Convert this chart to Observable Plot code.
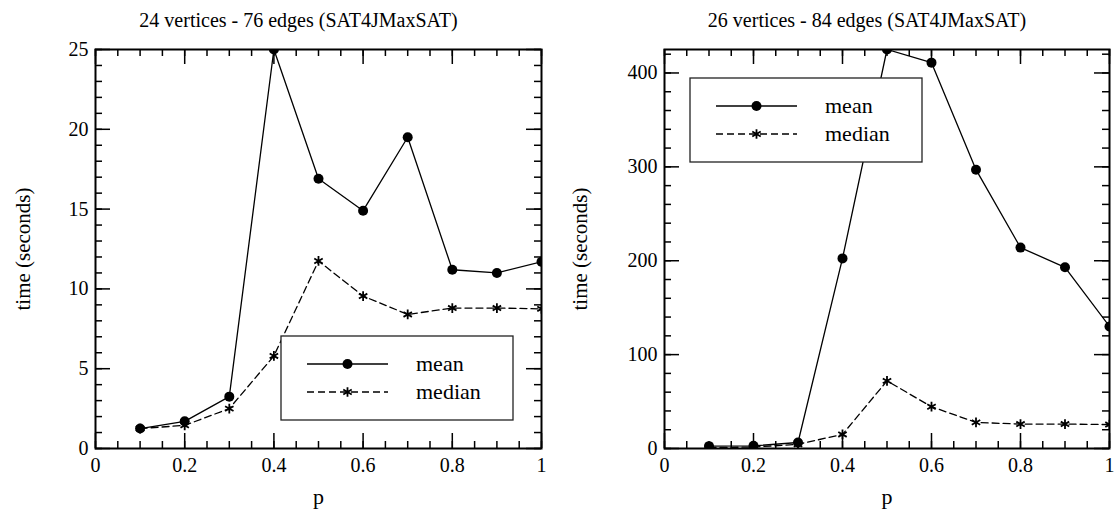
<!DOCTYPE html>
<html>
<head>
<meta charset="utf-8">
<script src="https://cdn.jsdelivr.net/npm/d3@7"></script>
<script src="https://cdn.jsdelivr.net/npm/@observablehq/plot@0.6"></script>
<style>
  html, body { margin: 0; padding: 0; background: #fff; }
  #wrap { position: relative; width: 1117px; height: 517px; overflow: hidden; }
  #wrap > svg { position: absolute; top: 0; }
  #wrap svg, #wrap svg text { font-family: "Liberation Serif", "DejaVu Serif", serif !important; }
</style>
</head>
<body>
<div id="wrap"></div>
<script>
// ---- data ----
const p = [0.1, 0.2, 0.3, 0.4, 0.5, 0.6, 0.7, 0.8, 0.9, 1.0];
const mean24 = [1.25, 1.7, 3.25, 25, 16.9, 14.9, 19.5, 11.2, 11.0, 11.7];
const median24 = [1.25, 1.45, 2.5, 5.8, 11.75, 9.55, 8.4, 8.8, 8.8, 8.75];
const mean26 = [2.5, 2.8, 6.4, 202.5, 425, 411, 297, 214, 193, 130];
const median26 = [1, 1.5, 4.5, 15, 72, 44.5, 27.8, 26, 26, 25.5];

const title24 = "24 vertices - 76 edges (SAT4JMaxSAT)";
const title26 = "26 vertices - 84 edges (SAT4JMaxSAT)";
const xLabel = "p";
const yLabel = "time (seconds)";
const seriesNames = ["mean", "median"];

const xTicks = [0, 0.2, 0.4, 0.6, 0.8, 1];
const yTicks24 = [0, 5, 10, 15, 20, 25];
const yTicks26 = [0, 100, 200, 300, 400];

const FONT = "Liberation Serif, DejaVu Serif, serif";

function panel({title, mean, median, yMax, yTicks, yMinorStep, left, width, marginLeft, marginRight, legend, yLabelDx, titleDx}) {
  const height = 517, marginTop = 49, marginBottom = 69;
  const fh = height - marginTop - marginBottom;
  const fw = width - marginLeft - marginRight;
  const rows = p.map((v, i) => ({p: v, mean: mean[i], median: median[i]}));
  const xMinor = d3.range(0, 21).map(i => i / 20);
  const yMinor = d3.range(0, Math.floor(yMax / yMinorStep) + 1).map(i => i * yMinorStep);
  const majLen = 15, minLen = 7, tw = 1.5;
  const svg = Plot.plot({
    width, height, marginLeft, marginRight, marginTop, marginBottom,
    style: {fontFamily: FONT, fontSize: "20px", background: "white", color: "black"},
    x: {domain: [0, 1], ticks: xTicks, tickSize: 0, tickPadding: 9, label: null, tickFormat: d3.format("")},
    y: {domain: [0, yMax], ticks: yTicks, tickSize: 0, tickPadding: 7, label: null},
    marks: [
      Plot.tickX(xMinor, {x: d => d, insetTop: fh - minLen, stroke: "black", strokeWidth: tw}),
      Plot.tickX(xMinor, {x: d => d, insetBottom: fh - minLen, stroke: "black", strokeWidth: tw}),
      Plot.tickX(xTicks, {x: d => d, insetTop: fh - majLen, stroke: "black", strokeWidth: tw}),
      Plot.tickX(xTicks, {x: d => d, insetBottom: fh - majLen, stroke: "black", strokeWidth: tw}),
      Plot.tickY(yMinor, {y: d => d, insetRight: fw - minLen, stroke: "black", strokeWidth: tw}),
      Plot.tickY(yMinor, {y: d => d, insetLeft: fw - minLen, stroke: "black", strokeWidth: tw}),
      Plot.tickY(yTicks, {y: d => d, insetRight: fw - majLen, stroke: "black", strokeWidth: tw}),
      Plot.tickY(yTicks, {y: d => d, insetLeft: fw - majLen, stroke: "black", strokeWidth: tw}),
      Plot.line(rows, {x: "p", y: "median", stroke: "black", strokeWidth: 1.3, strokeDasharray: "7,4", clip: true}),
      Plot.dot(rows, {x: "p", y: "median", symbol: "asterisk", r: 4.6, stroke: "black", strokeWidth: 1.8, clip: true}),
      Plot.line(rows, {x: "p", y: "mean", stroke: "black", strokeWidth: 1.3, clip: true}),
      Plot.dot(rows, {x: "p", y: "mean", r: 5, fill: "black", stroke: "none", clip: true}),
      Plot.frame({stroke: "black", strokeWidth: 2}),
      Plot.text([title], {frameAnchor: "top", lineAnchor: "middle", textAnchor: "middle", dy: -29, dx: titleDx, fontSize: 20, fontFamily: FONT, text: d => d}),
      Plot.text([xLabel], {frameAnchor: "bottom", lineAnchor: "middle", textAnchor: "middle", dy: 48, fontSize: 22, fontFamily: FONT, text: d => d}),
      Plot.text([yLabel], {frameAnchor: "left", lineAnchor: "middle", textAnchor: "middle", dx: yLabelDx, rotate: -90, fontSize: 21, fontFamily: FONT, text: d => d})
    ]
  });
  svg.style.left = left + "px";
  const g = d3.select(svg).append("g").attr("font-family", FONT).attr("font-size", 22).attr("text-anchor", "start");
  const {x, y, w, h} = legend;
  g.append("rect").attr("x", x).attr("y", y).attr("width", w).attr("height", h)
    .attr("fill", "white").attr("stroke", "#222").attr("stroke-width", 1.3);
  const r1 = y + h / 3, r2 = y + 2 * h / 3;
  const lx1 = x + 26, lx2 = x + 107, mx = (lx1 + lx2) / 2, tx = x + 135;
  g.append("line").attr("x1", lx1).attr("x2", lx2).attr("y1", r1).attr("y2", r1).attr("stroke", "black").attr("stroke-width", 1.3);
  g.append("circle").attr("cx", mx).attr("cy", r1).attr("r", 5).attr("fill", "black");
  g.append("line").attr("x1", lx1).attr("x2", lx2).attr("y1", r2).attr("y2", r2).attr("stroke", "black").attr("stroke-width", 1.3).attr("stroke-dasharray", "7,4");
  g.append("path").attr("d", d3.symbol(d3.symbolAsterisk, 4.6 * 4.6 * Math.PI)()).attr("transform", `translate(${mx},${r2})`)
    .attr("stroke", "black").attr("stroke-width", 1.8).attr("fill", "none");
  g.append("text").attr("x", tx).attr("y", r1).attr("dy", "0.32em").attr("text-anchor", "start").text(seriesNames[0]);
  g.append("text").attr("x", tx).attr("y", r2).attr("dy", "0.32em").attr("text-anchor", "start").text(seriesNames[1]);
  return svg;
}

const wrap = document.getElementById("wrap");
wrap.appendChild(panel({
  title: title24, mean: mean24, median: median24, yMax: 25, yTicks: yTicks24, yMinorStep: 1,
  left: 0, width: 558, marginLeft: 95, marginRight: 17,
  legend: {x: 281, y: 336, w: 232, h: 84}, yLabelDx: -72, titleDx: -20
}));
wrap.appendChild(panel({
  title: title26, mean: mean26, median: median26, yMax: 425, yTicks: yTicks26, yMinorStep: 20,
  left: 558, width: 559, marginLeft: 106, marginRight: 8,
  legend: {x: 132, y: 78, w: 232, h: 84}, yLabelDx: -84, titleDx: -20
}));
</script>
</body>
</html>
